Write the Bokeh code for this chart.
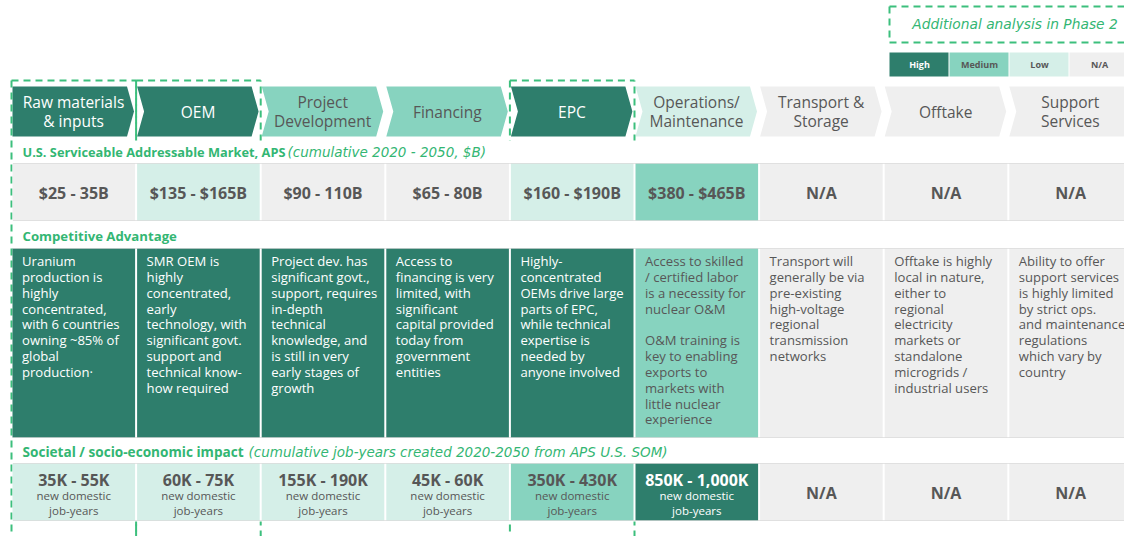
from bokeh.plotting import figure
from bokeh.models import Range1d, ColumnDataSource
from bokeh.embed import file_html
from bokeh.resources import INLINE
from bokeh.core.properties import value

# ---------------- data ----------------
stages = ["Raw materials\n& inputs", "OEM", "Project\nDevelopment", "Financing", "EPC",
          "Operations/\nMaintenance", "Transport &\nStorage", "Offtake", "Support\nServices"]
stage_rating = ["High", "High", "Medium", "Medium", "High", "Low", "N/A", "N/A", "N/A"]
phase2_stages = ["Raw materials\n& inputs", "OEM", "EPC"]

sam_values = ["$25 - 35B", "$135 - $165B", "$90 - 110B", "$65 - 80B", "$160 - $190B",
              "$380 - $465B", "N/A", "N/A", "N/A"]
sam_rating = ["N/A", "Low", "N/A", "N/A", "Low", "Medium", "N/A", "N/A", "N/A"]

adv_text = [
    "Uranium\nproduction is\nhighly\nconcentrated,\nwith 6 countries\nowning ~85% of\nglobal\nproduction\u00b7",
    "SMR OEM is\nhighly\nconcentrated,\nearly\ntechnology, with\nsignificant govt.\nsupport and\ntechnical know-\nhow required",
    "Project dev. has\nsignificant govt.,\nsupport, requires\nin-depth\ntechnical\nknowledge, and\nis still in very\nearly stages of\ngrowth",
    "Access to\nfinancing is very\nlimited, with\nsignificant\ncapital provided\ntoday from\ngovernment\nentities",
    "Highly-\nconcentrated\nOEMs drive large\nparts of EPC,\nwhile technical\nexpertise is\nneeded by\nanyone involved",
    "Access to skilled\n/ certified labor\nis a necessity for\nnuclear O&M\n\nO&M training is\nkey to enabling\nexports to\nmarkets with\nlittle nuclear\nexperience",
    "Transport will\ngenerally be via\npre-existing\nhigh-voltage\nregional\ntransmission\nnetworks",
    "Offtake is highly\nlocal in nature,\neither to\nregional\nelectricity\nmarkets or\nstandalone\nmicrogrids /\nindustrial users",
    "Ability to offer\nsupport services\nis highly limited\nby strict ops.\nand maintenance\nregulations\nwhich vary by\ncountry",
]
adv_rating = ["High", "High", "High", "High", "High", "Medium", "N/A", "N/A", "N/A"]

jobs_values = ["35K - 55K", "60K - 75K", "155K - 190K", "45K - 60K", "350K - 430K",
               "850K - 1,000K", "N/A", "N/A", "N/A"]
jobs_sub = "new domestic\njob-years"
jobs_rating = ["Low", "Low", "Low", "Low", "Medium", "High", "N/A", "N/A", "N/A"]

legend_levels = ["High", "Medium", "Low", "N/A"]
legend_note = "Additional analysis in Phase 2"

sam_title = "U.S. Serviceable Addressable Market, APS"
sam_note = "(cumulative 2020 - 2050, $B)"
adv_title = "Competitive Advantage"
jobs_title = "Societal / socio-economic impact"
jobs_note = "(cumulative job-years created 2020-2050 from APS U.S. SOM)"

# ---------------- style ----------------
FILL = {"High": "#2e7e6c", "Medium": "#87d3bf", "Low": "#d5efe8", "N/A": "#efefef"}
TXT = {"High": "#ffffff", "Medium": "#575757", "Low": "#575757", "N/A": "#575757"}
GREEN = "#33b673"
DASH = "#3cbf7d"
FONT = value("Open Sans")
IFONT = value("DejaVu Sans")


def fs(px):
    return f"{px:.1f}px"


X0, PITCH, CW = 12.0, 124.6, 122.6
n = len(stages)
cx0 = [X0 + i * PITCH for i in range(n)]

p = figure(width=1124, height=536, x_range=Range1d(0, 1124), y_range=Range1d(536, 0),
           output_backend="svg", toolbar_location=None, min_border=0,
           x_axis_location=None, y_axis_location=None)
p.grid.visible = False
p.outline_line_color = None
p.background_fill_color = "white"
p.border_fill_color = "white"

# ---- chevron header ----
xs, ys = [], []
for i in range(n):
    x0 = cx0[i]
    x1 = x0 + 121.5
    d = 7
    px = [x0, x1 - d, x1, x1 - d, x0]
    py = [86, 86, 111, 136, 136]
    if i > 0:
        px.append(x0 + d)
        py.append(111)
    xs.append(px)
    ys.append(py)
p.patches(xs, ys, fill_color=[FILL[r] for r in stage_rating], line_color=None)
p.text(x=[c + 61 for c in cx0], y=[111] * n, text=stages,
       text_color=[TXT[r] for r in stage_rating], text_font=FONT, text_font_size=fs(15.5),
       text_align="center", text_baseline="middle", text_line_height=0.9)

# ---- phase 2 dashed boxes ----
lx, ly, rx, ry = [], [], [], []
for s in phase2_stages:
    i = stages.index(s)
    left, right = cx0[i] - 1, cx0[i] + CW + 1
    lx += [[left, right], [left, left]]
    ly += [[80, 80], [80, 540]]
    rx += [[right, right]]
    ry += [[80, 540]]
p.multi_line(lx, ly, line_color=DASH, line_width=2, line_dash="7 5")
p.multi_line(rx, ry, line_color=DASH, line_width=2, line_dash="7 5", line_dash_offset=6)

# ---- white background for rows (hides dashed lines inside table) ----
p.quad(left=[13], right=[1124], top=[140], bottom=[521], fill_color="white", line_color=None)


# ---- rows ----
def row(top, bottom, ratings):
    src = ColumnDataSource(dict(left=cx0, right=[c + CW for c in cx0],
                                top=[top] * n, bottom=[bottom] * n,
                                color=[FILL[r] for r in ratings]))
    p.quad(left="left", right="right", top="top", bottom="bottom", fill_color="color",
           line_color=None, source=src)
    p.multi_line([[13, 1124], [13, 1124]], [[top, top], [bottom, bottom]],
                 line_color="#c8c8c8", line_width=1, line_dash="1 1")


row(163, 220, sam_rating)
row(248, 437, adv_rating)
row(463, 520, jobs_rating)

# section titles
for y, t, size, note, nx in [(151, sam_title, 12.8, sam_note, 287),
                             (235, adv_title, 13.2, None, 0),
                             (451, jobs_title, 13.6, jobs_note, 248)]:
    p.text(x=[22], y=[y], text=[t], text_color=GREEN, text_font=FONT, text_font_size=fs(size),
           text_font_style="bold", text_align="left", text_baseline="middle")
    if note:
        p.text(x=[nx], y=[y], text=[note], text_color=GREEN, text_font=IFONT,
               text_font_size=fs(13.5), text_font_style="italic", text_align="left",
               text_baseline="middle")

# SAM values
p.text(x=[c + CW / 2 for c in cx0], y=[192] * n, text=sam_values,
       text_color=[TXT[r] for r in sam_rating], text_font=FONT, text_font_size=fs(16),
       text_font_style="bold", text_align="center", text_baseline="middle")

# competitive advantage
p.text(x=[c + 9.5 for c in cx0], y=[251.5] * n, text=adv_text,
       text_color=[TXT[r] for r in adv_rating], text_font=FONT, text_font_size=fs(13.1),
       text_align="left", text_baseline="top", text_line_height=0.88)

# jobs
has_sub = [v != "N/A" for v in jobs_values]
p.text(x=[c + CW / 2 for c in cx0], y=[479 if h else 492 for h in has_sub], text=jobs_values,
       text_color=[TXT[r] for r in jobs_rating], text_font=FONT, text_font_size=fs(16),
       text_font_style="bold", text_align="center", text_baseline="middle")
sub_x = [c + CW / 2 for c, h in zip(cx0, has_sub) if h]
sub_c = [TXT[r] for r, h in zip(jobs_rating, has_sub) if h]
p.text(x=sub_x, y=[502.5] * len(sub_x), text=[jobs_sub] * len(sub_x), text_color=sub_c,
       text_font=FONT, text_font_size=fs(11.5), text_align="center", text_baseline="middle",
       text_line_height=1.02)

# ---- legend ----
p.multi_line([[889, 1124], [889, 889], [889, 1124]], [[6, 6], [6, 42], [42, 42]],
             line_color=DASH, line_width=2, line_dash="7 5")
p.text(x=[1014.5], y=[23], text=[legend_note], text_color=GREEN, text_font=IFONT,
       text_font_size=fs(13.8), text_font_style="italic", text_align="center",
       text_baseline="middle")
lg_left = [889 + 60 * k for k in range(len(legend_levels))]
p.quad(left=lg_left, right=[l + 59 for l in lg_left], top=[52] * 4, bottom=[76] * 4,
       fill_color=[FILL[l] for l in legend_levels], line_color=None)
p.text(x=[l + 30 for l in lg_left], y=[64] * 4, text=legend_levels,
       text_color=[TXT[l] for l in legend_levels], text_font=FONT, text_font_size=fs(9),
       text_font_style="bold", text_align="center", text_baseline="middle")

open("out.html", "w").write(file_html(p, INLINE))
